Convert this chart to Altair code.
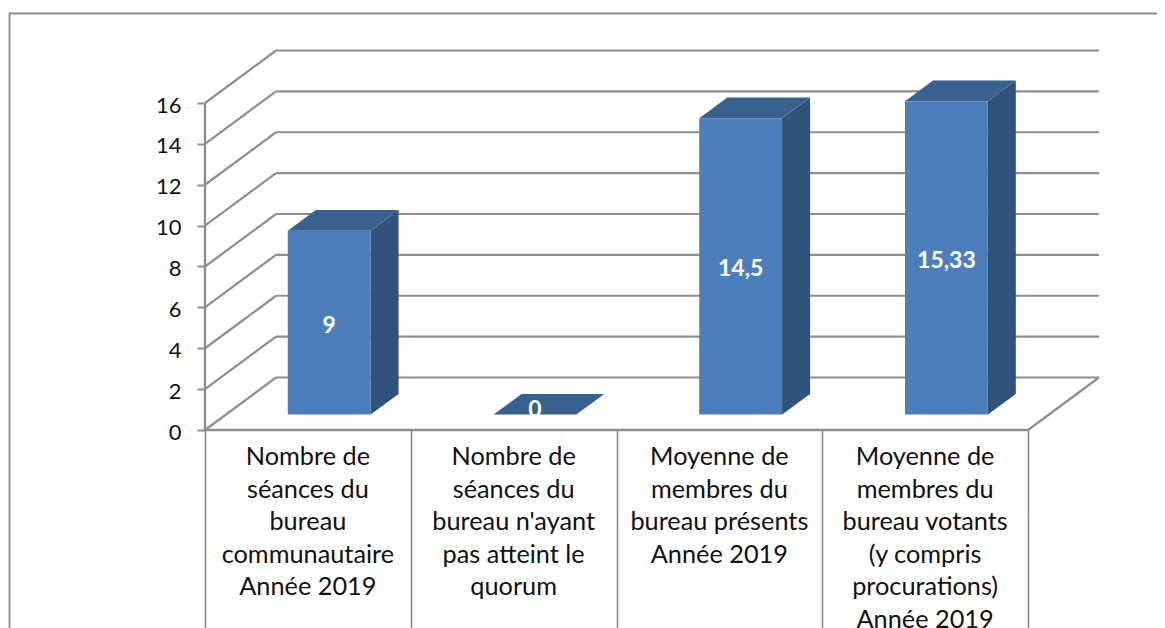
import altair as alt
import pandas as pd

# ---- chart values -------------------------------------------------------
categories = [
    "Nombre de\nséances du\nbureau\ncommunautaire\nAnnée 2019",
    "Nombre de\nséances du\nbureau n'ayant\npas atteint le\nquorum",
    "Moyenne de\nmembres du\nbureau présents\nAnnée 2019",
    "Moyenne de\nmembres du\nbureau votants\n(y compris\nprocurations)\nAnnée 2019",
]
values = [9, 0, 14.5, 15.33]
value_labels = ["9", "0", "14,5", "15,33"]
y_ticks = [0, 2, 4, 6, 8, 10, 12, 14, 16]

# ---- projection of the pseudo 3D box (in data units) --------------------
W, H = 895, 380
PX_X = 823 / 4          # pixels per category
PX_Y = 327 / 16         # pixels per value unit
N = len(categories)
WALL_DX, WALL_DY = 71 / PX_X, 52.5 / PX_Y
BAR_W = 82.8 / PX_X
BAR_SHIFT = 21.3 / PX_X
BAR_LIFT = 15.4 / PX_Y
BAR_DX, BAR_DY = 28 / PX_X, 20.7 / PX_Y
GRID = "#8e8e8e"

x_scale = alt.Scale(domain=[0, W / PX_X], nice=False, zero=False)
y_scale = alt.Scale(domain=[0, H / PX_Y], nice=False, zero=False)
y_axis = alt.Axis(values=y_ticks, title=None, domain=False, grid=False, tickSize=8, tickWidth=2,
                  tickColor=GRID, labelFontSize=22, labelFont="Lato", labelColor="#111111",
                  labelPadding=16, labelBaseline="middle", labelOffset=2)
x_axis = alt.Axis(values=list(range(N + 1)), title=None, domain=False, grid=False, labels=False,
                  tickSize=210, tickWidth=1.6, tickColor="#8a8a8a")
X = lambda f="x": alt.X(f"{f}:Q", scale=x_scale, axis=x_axis)
Y = lambda f="y": alt.Y(f"{f}:Q", scale=y_scale, axis=y_axis)

# grid: back wall, left wall, floor edge
grid_rows = []
for v in y_ticks:
    grid_rows += [
        dict(g=f"b{v}", o=0, x=WALL_DX, y=v + WALL_DY),
        dict(g=f"b{v}", o=1, x=N + WALL_DX, y=v + WALL_DY),
        dict(g=f"l{v}", o=0, x=0, y=v),
        dict(g=f"l{v}", o=1, x=WALL_DX, y=v + WALL_DY),
    ]
grid_rows += [dict(g="f", o=0, x=N, y=0), dict(g="f", o=1, x=N + WALL_DX, y=WALL_DY)]
grid = alt.Chart(pd.DataFrame(grid_rows)).mark_line(color=GRID, strokeWidth=2.2).encode(
    x=X(), y=Y(), detail="g:N", order="o:Q"
)

# axis lines
axis_line = alt.Chart(pd.DataFrame({"x": [0, 0, N], "y": [max(y_ticks), 0, 0], "o": [0, 1, 2]})).mark_line(
    color=GRID, strokeWidth=2.4
).encode(x=X(), y=Y(), order="o:Q")

# outer frame (runs off the picture on the right and at the bottom)
frame = alt.Chart(pd.DataFrame({
    "x": [-195.5 / PX_X, -195.5 / PX_X, 960 / PX_X],
    "y": [-12, 416.5 / PX_Y, 416.5 / PX_Y],
    "o": [0, 1, 2],
})).mark_line(color="#8c8c8c", strokeWidth=1.8).encode(x=X(), y=Y(), order="o:Q")

# bars
front, side, top, text = [], [], [], []
for i, v in enumerate(values):
    x0 = i + 0.5 + BAR_SHIFT - BAR_W / 2
    x1 = x0 + BAR_W
    b = BAR_LIFT
    t = BAR_LIFT + v
    front.append(dict(x=x0, x2=x1, y=b, y2=t))
    side += [dict(bar=i, x=x1, y=b, y2=t), dict(bar=i, x=x1 + BAR_DX, y=b + BAR_DY, y2=t + BAR_DY)]
    top += [dict(bar=i, y=t, x=x0, x2=x1), dict(bar=i, y=t + BAR_DY, x=x0 + BAR_DX, x2=x1 + BAR_DX)]
    text.append(dict(x=(x0 + x1) / 2, y=b + max(v / 2, 0.35), label=value_labels[i]))

front_l = alt.Chart(pd.DataFrame(front)).mark_rect(color="#4c7ebc").encode(
    x=X(), x2="x2:Q", y=Y(), y2="y2:Q"
)
side_l = alt.Chart(pd.DataFrame(side)).mark_area(color="#31527b", orient="vertical").encode(
    x=X(), y=Y(), y2="y2:Q", detail="bar:N"
)
top_l = alt.Chart(pd.DataFrame(top)).mark_area(color="#39618f", orient="horizontal").encode(
    y=Y(), x=X(), x2="x2:Q", detail="bar:N"
)
bar_text = alt.Chart(pd.DataFrame(text)).mark_text(
    color="white", fontWeight="bold", fontSize=23, font="Lato", align="center", baseline="middle", dy=3
).encode(x=X(), y=Y(), text="label:N")

# category labels under the axis
cat_df = pd.DataFrame({"x": [i + 0.5 for i in range(N)], "y": [0] * N, "label": categories})
cat_text = alt.Chart(cat_df).mark_text(
    color="#111111", fontSize=25.3, font="Lato", align="center", baseline="top",
    lineBreak="\n", lineHeight=32.5, dy=15
).encode(x=X(), y=Y(), text="label:N")

chart = alt.layer(grid, axis_line, frame, side_l, top_l, front_l, bar_text, cat_text).properties(
    width=W, height=H,
    autosize=alt.AutoSizeParams(type="none"),
    padding={"left": 197, "top": 42, "right": 57, "bottom": 206},
    background="white",
).configure_view(stroke=None)

chart.save("out.html", embed_options={"renderer": "svg", "actions": False})
